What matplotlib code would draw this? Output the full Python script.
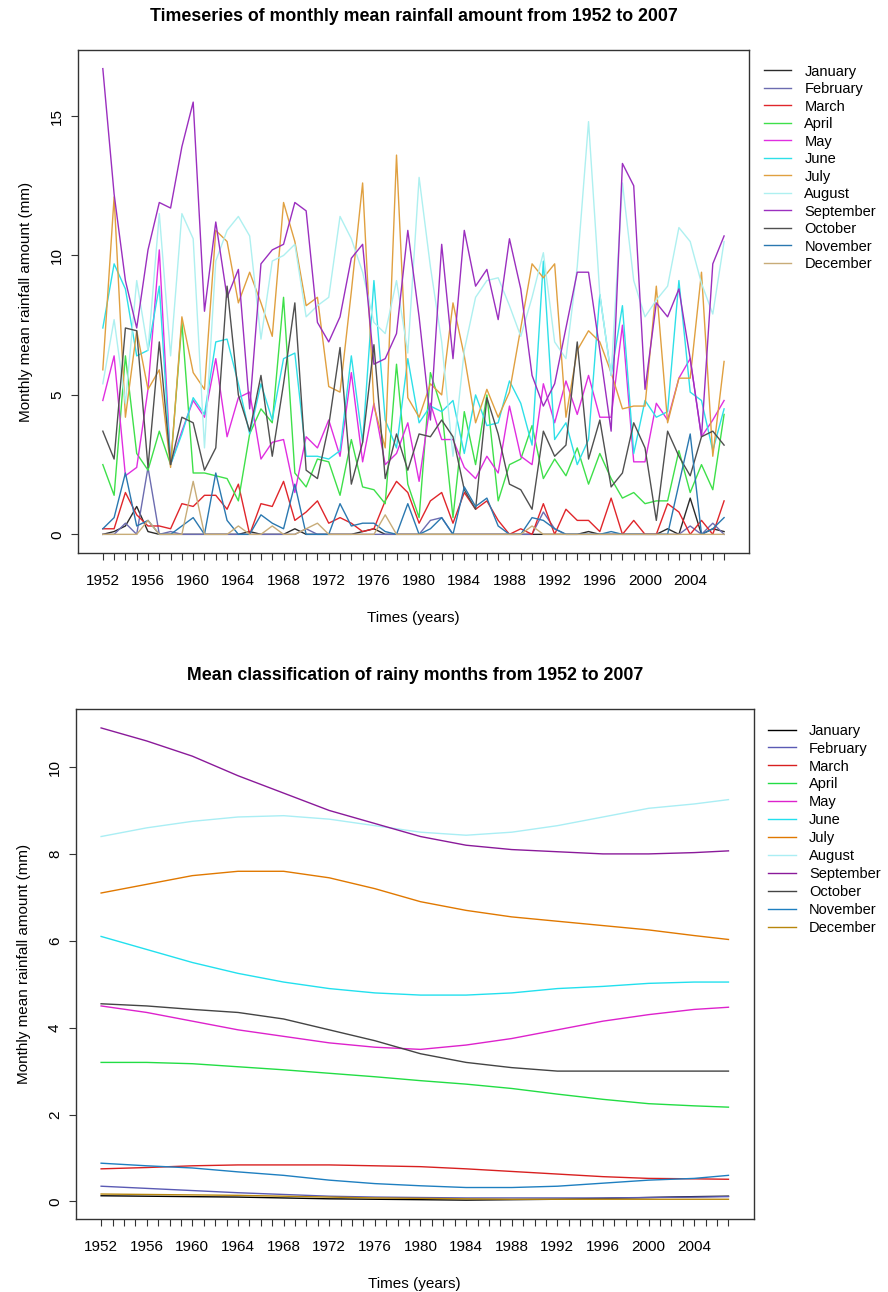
import numpy as np
import matplotlib
matplotlib.use("Agg")
import matplotlib.pyplot as plt

plt.rcParams['font.family'] = ['Liberation Sans', 'DejaVu Sans']

years = list(range(1952, 2008))
months = ['January', 'February', 'March', 'April', 'May', 'June', 'July',
          'August', 'September', 'October', 'November', 'December']

# monthly mean rainfall (mm), rows: 1952-67, 1968-82, 1983-97, 1998-2007
january = [0.0, 0.1, 0.3, 1.0, 0.1, 0.0, 0.0, 0.0, 0.0, 0.0, 0.0, 0.0, 0.0, 0.1, 0.0, 0.0,
           0.0, 0.2, 0.0, 0.0, 0.0, 0.0, 0.0, 0.1, 0.2, 0.0, 0.0, 0.0, 0.0, 0.0, 0.0,
           0.0, 0.0, 0.0, 0.0, 0.0, 0.0, 0.0, 0.0, 0.0, 0.0, 0.0, 0.0, 0.1, 0.0, 0.0,
           0.0, 0.0, 0.0, 0.0, 0.2, 0.0, 1.3, 0.0, 0.2, 0.1]
february = [0.0, 0.0, 0.4, 0.0, 2.4, 0.0, 0.1, 0.0, 0.0, 0.0, 0.0, 0.0, 0.0, 0.0, 0.0, 0.0,
            0.0, 0.0, 0.2, 0.0, 0.0, 0.0, 0.0, 0.0, 0.0, 0.0, 0.0, 0.0, 0.0, 0.5, 0.6,
            0.0, 0.0, 0.0, 0.0, 0.0, 0.0, 0.0, 0.0, 0.8, 0.2, 0.0, 0.0, 0.0, 0.0, 0.0,
            0.0, 0.0, 0.0, 0.0, 0.0, 0.0, 0.3, 0.0, 0.4, 0.0]
march = [0.2, 0.2, 1.5, 0.7, 0.3, 0.3, 0.2, 1.1, 1.0, 1.4, 1.4, 0.9, 1.8, 0.0, 1.1, 1.0,
         1.9, 0.5, 0.8, 1.2, 0.4, 0.6, 0.4, 0.1, 0.2, 1.2, 1.9, 1.5, 0.4, 1.2, 1.5,
         0.4, 1.5, 0.9, 1.2, 0.5, 0.0, 0.2, 0.0, 1.1, 0.0, 0.9, 0.5, 0.5, 0.1, 1.3,
         0.0, 0.5, 0.0, 0.0, 1.1, 0.8, 0.0, 0.5, 0.0, 1.2]
april = [2.5, 1.4, 6.4, 2.9, 2.3, 3.7, 2.5, 7.6, 2.2, 2.2, 2.1, 2.0, 1.2, 3.6, 4.5, 4.0,
         8.5, 2.2, 1.7, 2.7, 2.6, 1.4, 3.4, 1.7, 1.6, 1.1, 6.1, 1.8, 0.6, 5.8, 4.5,
         0.6, 4.4, 2.5, 5.0, 1.2, 2.5, 2.7, 3.9, 2.0, 2.7, 2.1, 3.1, 1.8, 2.9, 2.0,
         1.3, 1.5, 1.1, 1.2, 1.2, 3.0, 1.5, 2.5, 1.6, 4.3]
may = [4.8, 6.4, 2.1, 2.4, 5.2, 10.2, 2.5, 3.7, 4.8, 4.2, 6.3, 3.5, 4.9, 5.1, 2.7, 3.3,
       3.4, 1.5, 3.5, 3.1, 4.1, 2.8, 5.8, 2.6, 4.7, 2.5, 2.9, 4.0, 1.9, 4.7, 3.4,
       3.4, 2.4, 2.0, 2.8, 2.2, 4.6, 2.8, 2.5, 5.4, 4.0, 5.5, 4.3, 5.7, 4.2, 4.2,
       7.5, 2.6, 2.6, 4.7, 4.1, 5.6, 6.3, 3.5, 4.1, 4.8]
june = [7.4, 9.7, 8.8, 6.4, 6.6, 8.9, 2.5, 3.6, 4.9, 4.3, 6.9, 7.0, 5.4, 3.6, 5.4, 4.1,
        6.3, 6.5, 2.8, 2.8, 2.7, 3.0, 6.4, 3.3, 9.1, 4.1, 3.1, 6.3, 4.0, 4.6, 4.4,
        4.8, 2.9, 5.0, 3.9, 4.0, 5.5, 4.7, 3.2, 9.8, 3.4, 4.0, 2.5, 3.4, 8.6, 5.7,
        8.2, 2.9, 4.8, 4.2, 4.4, 9.1, 5.1, 4.8, 3.0, 4.5]
july = [5.9, 12.1, 4.2, 7.3, 5.2, 5.9, 2.4, 7.8, 5.8, 5.2, 10.9, 10.5, 8.3, 9.4, 8.3, 7.1,
        11.9, 10.5, 8.2, 8.5, 5.3, 5.1, 8.7, 12.6, 4.6, 3.1, 13.6, 4.9, 4.2, 5.4, 5.0,
        8.3, 6.4, 4.0, 5.2, 4.2, 5.1, 7.4, 9.7, 9.2, 9.7, 4.2, 6.6, 7.3, 6.9, 5.8,
        4.5, 4.6, 4.6, 8.9, 4.0, 5.6, 5.6, 9.4, 2.8, 6.2]
august = [5.4, 7.7, 4.7, 9.1, 6.6, 11.5, 6.4, 11.5, 10.6, 3.1, 9.8, 10.9, 11.4, 10.7, 7.0, 9.8,
          10.0, 10.4, 7.8, 8.2, 8.5, 11.4, 10.6, 9.4, 7.6, 7.2, 9.1, 6.5, 12.8, 9.6, 6.9,
          2.8, 6.6, 8.5, 9.1, 9.2, 8.2, 7.1, 8.5, 10.1, 6.9, 6.3, 9.6, 14.8, 8.6, 5.7,
          12.6, 9.1, 7.8, 8.4, 8.9, 11.0, 10.5, 9.0, 7.9, 10.5]
september = [16.7, 12.2, 9.1, 7.4, 10.2, 11.9, 11.7, 13.9, 15.5, 8.0, 11.2, 8.5, 9.5, 4.5, 9.7, 10.2,
             10.4, 11.9, 11.6, 7.6, 6.9, 7.8, 9.9, 10.4, 6.1, 6.3, 7.2, 10.9, 7.8, 4.1, 10.4,
             6.3, 10.9, 8.9, 9.5, 7.7, 10.6, 8.8, 5.7, 4.6, 5.4, 7.4, 9.4, 9.4, 6.6, 3.7,
             13.3, 12.5, 5.2, 8.3, 7.8, 8.8, 6.3, 3.5, 9.7, 10.7]
october = [3.7, 2.7, 7.4, 7.3, 2.4, 6.9, 2.5, 4.2, 4.0, 2.3, 3.1, 8.9, 5.0, 3.7, 5.7, 2.8,
           5.4, 8.3, 2.3, 2.0, 3.9, 6.7, 1.8, 3.3, 6.8, 2.0, 3.6, 2.3, 3.6, 3.5, 4.1,
           3.5, 1.6, 0.9, 4.9, 3.6, 1.8, 1.6, 0.9, 3.7, 2.8, 3.2, 6.9, 2.7, 4.1, 1.7,
           2.2, 4.0, 3.1, 0.5, 3.7, 2.8, 2.1, 3.5, 3.7, 3.2]
november = [0.2, 0.6, 2.2, 0.3, 0.5, 0.0, 0.0, 0.3, 0.6, 0.0, 2.2, 0.5, 0.0, 0.0, 0.7, 0.4,
            0.2, 1.8, 0.0, 0.0, 0.0, 1.1, 0.3, 0.4, 0.4, 0.1, 0.0, 1.1, 0.0, 0.2, 0.6,
            0.0, 1.7, 1.0, 1.3, 0.3, 0.0, 0.0, 0.6, 0.5, 0.2, 0.0, 0.0, 0.0, 0.0, 0.1,
            0.0, 0.0, 0.0, 0.0, 0.0, 1.8, 3.6, 0.0, 0.2, 0.6]
december = [0.0, 0.0, 0.0, 0.0, 0.5, 0.0, 0.0, 0.0, 1.9, 0.0, 0.0, 0.0, 0.3, 0.0, 0.0, 0.3,
            0.0, 0.0, 0.2, 0.4, 0.0, 0.0, 0.0, 0.0, 0.0, 0.7, 0.0, 0.0, 0.0, 0.0, 0.0,
            0.0, 0.0, 0.0, 0.0, 0.0, 0.0, 0.0, 0.3, 0.0, 0.0, 0.0, 0.0, 0.0, 0.0, 0.0,
            0.0, 0.0, 0.0, 0.0, 0.0, 0.0, 0.0, 0.0, 0.0, 0.0]
monthly = [january, february, march, april, may, june, july,
           august, september, october, november, december]

# smoothed means, every 4 years + 2007
smooth_years = [1952, 1956, 1960, 1964, 1968, 1972, 1976, 1980, 1984, 1988, 1992, 1996, 2000, 2004, 2007]
sm_january = [0.13, 0.12, 0.11, 0.10, 0.08, 0.06, 0.05, 0.04, 0.03, 0.04, 0.05, 0.07, 0.09, 0.11, 0.12]
sm_february = [0.35, 0.30, 0.25, 0.20, 0.16, 0.12, 0.10, 0.09, 0.08, 0.08, 0.08, 0.08, 0.09, 0.10, 0.11]
sm_march = [0.75, 0.78, 0.82, 0.84, 0.84, 0.84, 0.82, 0.80, 0.75, 0.69, 0.63, 0.57, 0.53, 0.52, 0.51]
sm_april = [3.20, 3.20, 3.17, 3.10, 3.03, 2.95, 2.87, 2.78, 2.70, 2.60, 2.47, 2.35, 2.25, 2.20, 2.17]
sm_may = [4.50, 4.35, 4.15, 3.95, 3.80, 3.65, 3.55, 3.50, 3.60, 3.75, 3.95, 4.15, 4.30, 4.42, 4.47]
sm_june = [6.10, 5.80, 5.50, 5.25, 5.05, 4.90, 4.80, 4.75, 4.75, 4.80, 4.90, 4.95, 5.02, 5.05, 5.05]
sm_july = [7.10, 7.30, 7.50, 7.60, 7.60, 7.45, 7.20, 6.90, 6.70, 6.55, 6.45, 6.35, 6.25, 6.12, 6.03]
sm_august = [8.40, 8.60, 8.75, 8.85, 8.88, 8.80, 8.65, 8.50, 8.43, 8.50, 8.65, 8.85, 9.05, 9.15, 9.25]
sm_september = [10.90, 10.60, 10.25, 9.80, 9.40, 9.00, 8.70, 8.40, 8.20, 8.10, 8.05, 8.00, 8.00, 8.03, 8.07]
sm_october = [4.55, 4.50, 4.42, 4.35, 4.20, 3.95, 3.70, 3.40, 3.20, 3.08, 3.00, 3.00, 3.00, 3.00, 3.00]
sm_november = [0.88, 0.82, 0.77, 0.68, 0.60, 0.49, 0.41, 0.36, 0.32, 0.32, 0.35, 0.42, 0.49, 0.53, 0.60]
sm_december = [0.17, 0.16, 0.15, 0.14, 0.12, 0.10, 0.08, 0.07, 0.06, 0.05, 0.05, 0.05, 0.05, 0.05, 0.05]
smoothed = [sm_january, sm_february, sm_march, sm_april, sm_may, sm_june, sm_july,
            sm_august, sm_september, sm_october, sm_november, sm_december]

top_colors = ['#2b2b2b', '#6c6cb0', '#e0262b', '#3ee04a', '#e02ee0', '#2ee0e8',
              '#e0a040', '#aef0f0', '#9b2fbf', '#505050', '#2a78b0', '#c8ac78']
bot_colors = ['#000000', '#5a5ab4', '#d82020', '#22dd44', '#dd22cc', '#22e0ee',
              '#e07800', '#aaeef4', '#8a1a9a', '#444444', '#1e7fc0', '#b8860b']


def style_axes(ax, yticks):
    ax.set_xticks(years)
    ax.set_xticklabels([str(y) if (y - 1952) % 4 == 0 else '' for y in years])
    ax.set_yticks(yticks)
    ax.set_yticklabels([str(t) for t in yticks], rotation=90, va='center')
    ax.tick_params(axis='both', direction='out', length=5, width=0.8,
                   labelsize=11, color='#333333', pad=5)
    ax.tick_params(axis='x', pad=10)
    for sp in ax.spines.values():
        sp.set_color('#333333')
        sp.set_linewidth(1.0)
    ax.set_xlim(1952 - 55 * 0.04, 2007 + 55 * 0.04)
    ax.set_xlabel('Times (years)', fontsize=11, labelpad=17)
    ax.set_ylabel('Monthly mean rainfall amount (mm)', fontsize=11, labelpad=12)


fig = plt.figure(figsize=(8.88, 12.92), dpi=100)

# top: raw monthly timeseries
ax1 = fig.add_axes([0.0878, 0.572, 0.7556, 0.3893])
for name, vals, c in zip(months, monthly, top_colors):
    ax1.plot(years, vals, color=c, lw=1.0, label=name)
ymax = max(max(v) for v in monthly)
ax1.set_ylim(-ymax * 0.04, ymax * 1.04)
style_axes(ax1, [0, 5, 10, 15])
ax1.set_title('Timeseries of monthly mean rainfall amount from 1952 to 2007',
              fontsize=12.8, fontweight='bold', pad=21)
ax1.legend(loc='upper left', bbox_to_anchor=(1.0, 1.0), frameon=False,
           fontsize=10.5, handlelength=1.9, handletextpad=0.9, labelspacing=0.24,
           borderaxespad=0.6)

# bottom: smoothed means
ax2 = fig.add_axes([0.0856, 0.0565, 0.763, 0.3947])
for name, vals, c in zip(months, smoothed, bot_colors):
    ax2.plot(smooth_years, vals, color=c, lw=1.0, label=name)
lo = min(min(v) for v in smoothed)
hi = max(max(v) for v in smoothed)
pad = (hi - lo) * 0.04
ax2.set_ylim(lo - pad, hi + pad)
style_axes(ax2, [0, 2, 4, 6, 8, 10])
ax2.set_title('Mean classification of rainy months from 1952 to 2007',
              fontsize=12.8, fontweight='bold', pad=21)
ax2.legend(loc='upper left', bbox_to_anchor=(1.0, 1.0), frameon=False,
           fontsize=10.5, handlelength=1.9, handletextpad=0.9, labelspacing=0.27,
           borderaxespad=0.6)

fig.savefig('out.png', dpi=100)
